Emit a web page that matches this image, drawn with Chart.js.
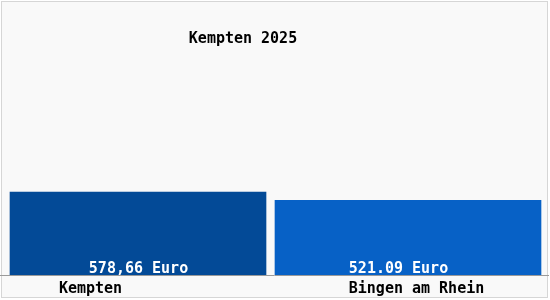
<!DOCTYPE html>
<html>
<head>
<meta charset="utf-8">
<script src="https://cdn.jsdelivr.net/npm/chart.js@4"></script>
<style>
html,body{margin:0;padding:0;background:#ffffff;}
#wrap{width:550px;height:300px;position:relative;}
canvas{display:block;}
</style>
</head>
<body>
<div id="wrap"><canvas id="c" width="550" height="300"></canvas></div>
<script>
const chartTitle = "Kempten 2025";
const categories = ["Kempten", "Bingen am Rhein"];
const values = [578.66, 521.09];
const valueLabels = ["578,66 Euro", "521.09 Euro"];
const barColors = ["#034a97", "#0761c6"];

const FONT = "bold 15px 'DejaVu Sans Mono', monospace";

const decoPlugin = {
  id: 'deco',
  beforeDraw(chart) {
    const ctx = chart.ctx;
    ctx.save();
    ctx.fillStyle = '#ffffff';
    ctx.fillRect(0, 0, chart.width, chart.height);
    ctx.fillStyle = '#f9f9f9';
    ctx.fillRect(2, 2, 546, 296);
    ctx.strokeStyle = '#d6d6d6';
    ctx.lineWidth = 1;
    ctx.strokeRect(1.5, 1.5, 546, 296);
    ctx.restore();
  },
  afterDatasetsDraw(chart, args, opts) {
    const ctx = chart.ctx;
    const xs = chart.scales.x, ys = chart.scales.y;
    const y0 = ys.getPixelForValue(0);
    ctx.save();
    // baseline axis line
    ctx.strokeStyle = '#9a9a9a';
    ctx.lineWidth = 1;
    ctx.beginPath();
    ctx.moveTo(0, Math.round(y0) + 0.5);
    ctx.lineTo(chart.width - 1, Math.round(y0) + 0.5);
    ctx.stroke();
    ctx.font = FONT;
    ctx.textAlign = 'center';
    ctx.textBaseline = 'alphabetic';
    // value labels inside bars
    ctx.fillStyle = '#ffffff';
    valueLabels.forEach((t, i) => {
      ctx.fillText(t, xs.getPixelForValue(i) + opts.valueOffsets[i], y0 - 2);
    });
    // category labels
    ctx.fillStyle = '#000000';
    categories.forEach((t, i) => {
      ctx.fillText(t, xs.getPixelForValue(i) + opts.catOffsets[i], y0 + 18);
    });
    // title
    ctx.fillText(chartTitle, opts.titleX, opts.titleY);
    ctx.restore();
  }
};

new Chart(document.getElementById('c'), {
  type: 'bar',
  data: {
    labels: categories,
    datasets: [
      { data: [values[0], null], backgroundColor: barColors[0], barThickness: 256, grouped: false, borderWidth: 0 },
      { data: [null, values[1]], backgroundColor: barColors[1], barThickness: 266, grouped: false, borderWidth: 0 }
    ]
  },
  options: {
    responsive: false,
    animation: false,
    devicePixelRatio: 1,
    layout: { padding: { left: 3, right: 7, top: 15, bottom: 25 } },
    plugins: {
      legend: { display: false },
      title: { display: false },
      tooltip: { enabled: false },
      deco: { valueOffsets: [0.5, -9.5], catOffsets: [-47.5, 8.5], titleX: 243, titleY: 43 }
    },
    scales: {
      x: { display: false, grid: { display: false } },
      y: { display: false, min: 0, max: 1812, grid: { display: false } }
    }
  },
  plugins: [decoPlugin]
});
</script>
</body>
</html>
